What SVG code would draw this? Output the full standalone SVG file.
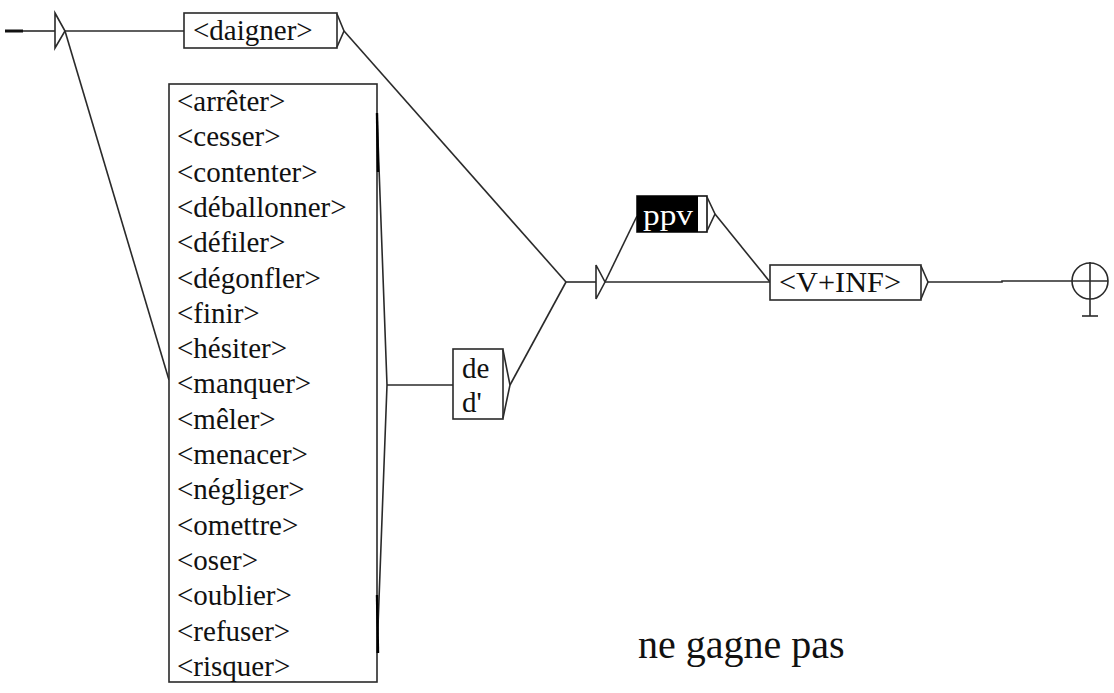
<svg xmlns="http://www.w3.org/2000/svg" width="1114" height="693" viewBox="0 0 1114 693">
  <style>
    .ln { fill: none; stroke: #2a2a2a; stroke-width: 1.6; stroke-linejoin: miter; }
    .box { fill: #ffffff; stroke: #2a2a2a; stroke-width: 1.6; }
    .serif { font-family: "Liberation Serif", "Times New Roman", serif; font-size: 29px; fill: #111; }
  </style>

  <rect width="1114" height="693" fill="#ffffff"/>

  <!-- transitions -->
  <g id="connectors">
    <line x1="5" y1="31" x2="23" y2="31" stroke="#111" stroke-width="3"/>
    <line class="ln" x1="23" y1="31" x2="55" y2="31"/>
    <line class="ln" x1="65" y1="31" x2="184" y2="31"/>
    <line class="ln" x1="65" y1="31" x2="169" y2="380"/>
    <line class="ln" x1="344" y1="31" x2="566" y2="282"/>
    <line class="ln" x1="387" y1="385" x2="453" y2="385"/>
    <line class="ln" x1="510" y1="385" x2="566" y2="282"/>
    <line class="ln" x1="566" y1="282" x2="596" y2="282"/>
    <line class="ln" x1="605" y1="282" x2="637" y2="216"/>
    <line class="ln" x1="605" y1="282" x2="770" y2="282"/>
    <line class="ln" x1="715" y1="214" x2="770" y2="282"/>
    <polyline class="ln" points="928,282 1002,282 1002,281 1072,281"/>
  </g>

  <!-- initial state -->
  <g id="initial">
    <polygon class="box" points="55,13 65,31 55,48"/>
  </g>

  <!-- <daigner> -->
  <g id="daigner">
    <rect class="box" x="184" y="13" width="153" height="35"/>
    <polyline class="ln" points="337,14 344,31 337,47"/>
    <text class="serif" x="193" y="40">&lt;daigner&gt;</text>
  </g>

  <!-- verb list -->
  <g id="verbs">
    <rect class="box" x="169" y="84" width="208" height="598"/>
    <polyline class="ln" points="377,113 387,385 377,653"/>
    <line x1="377" y1="113" x2="378" y2="172" stroke="#000" stroke-width="2.4"/>
    <line x1="377" y1="595" x2="378" y2="653" stroke="#000" stroke-width="2.4"/>
    <g class="serif">
      <text x="177" y="111">&lt;arrêter&gt;</text>
      <text x="177" y="146.3">&lt;cesser&gt;</text>
      <text x="177" y="181.6">&lt;contenter&gt;</text>
      <text x="177" y="216.9">&lt;déballonner&gt;</text>
      <text x="177" y="252.2">&lt;défiler&gt;</text>
      <text x="177" y="287.5">&lt;dégonfler&gt;</text>
      <text x="177" y="322.8">&lt;finir&gt;</text>
      <text x="177" y="358.1">&lt;hésiter&gt;</text>
      <text x="177" y="393.4">&lt;manquer&gt;</text>
      <text x="177" y="428.7">&lt;mêler&gt;</text>
      <text x="177" y="464">&lt;menacer&gt;</text>
      <text x="177" y="499.3">&lt;négliger&gt;</text>
      <text x="177" y="534.6">&lt;omettre&gt;</text>
      <text x="177" y="569.9">&lt;oser&gt;</text>
      <text x="177" y="605.2">&lt;oublier&gt;</text>
      <text x="177" y="640.5">&lt;refuser&gt;</text>
      <text x="177" y="675.8">&lt;risquer&gt;</text>
    </g>
  </g>

  <!-- de / d' -->
  <g id="de">
    <rect class="box" x="453" y="349" width="50" height="70"/>
    <polyline class="ln" points="503,350 510,385 503,418"/>
    <text class="serif" x="462" y="378">de</text>
    <text class="serif" x="462" y="412">d'</text>
  </g>

  <!-- merge node -->
  <g id="merge">
    <polygon class="box" points="596,265 605,282 596,299"/>
  </g>

  <!-- ppv (highlighted) -->
  <g id="ppv">
    <rect x="637" y="196" width="70" height="36" fill="#ffffff" stroke="#111" stroke-width="1.6"/>
    <rect x="637" y="196" width="61" height="36" fill="#000000"/>
    <polyline class="ln" points="707,197 715,214 707,231"/>
    <text class="serif" x="643" y="225" textLength="50" lengthAdjust="spacingAndGlyphs" style="fill:#ffffff">ppv</text>
  </g>

  <!-- <V+INF> -->
  <g id="vinf">
    <rect class="box" x="770" y="265" width="151" height="35"/>
    <polyline class="ln" points="921,266 928,282 921,299"/>
    <text class="serif" x="779" y="292" textLength="122" lengthAdjust="spacingAndGlyphs">&lt;V+INF&gt;</text>
  </g>

  <!-- final state -->
  <g id="final">
    <circle class="ln" cx="1090" cy="281" r="18"/>
    <line class="ln" x1="1072" y1="281" x2="1108" y2="281"/>
    <line class="ln" x1="1090" y1="262" x2="1090" y2="316"/>
    <line class="ln" x1="1082" y1="316" x2="1098" y2="316"/>
  </g>

  <text x="638" y="658" font-family="Liberation Serif, Times New Roman, serif" font-size="40" fill="#111">ne gagne pas</text>
</svg>
